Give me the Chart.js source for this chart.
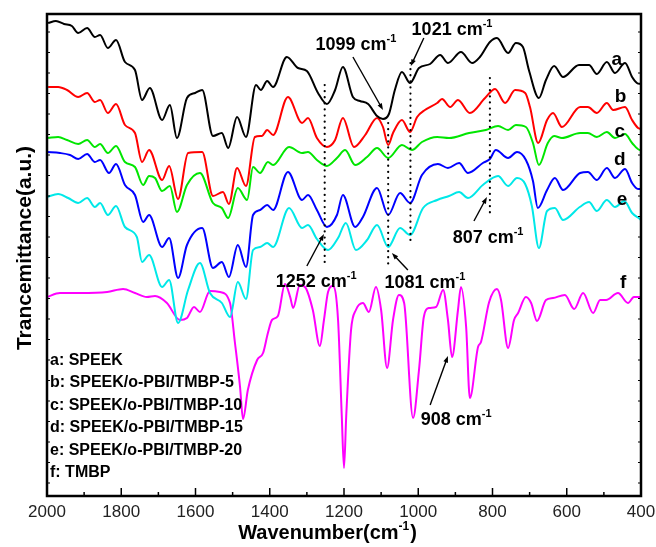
<!DOCTYPE html>
<html>
<head>
<meta charset="utf-8">
<script src="https://cdn.jsdelivr.net/npm/chart.js@4"></script>
<style>
  body { margin: 0; background: #fff; }
  canvas { display: block; }
</style>
</head>
<body>
<canvas id="ftir" width="656" height="547"></canvas>
<script>
// FTIR spectra — [wavenumber, transmittance (a.u.)]
const curveA = [[1997,473],[1976,475],[1954,472],[1933,470],[1916,463],[1892,468],[1871,459],[1857,461],[1836,448],[1814,456],[1790,434],[1763,426],[1744,396],[1723,408],[1690,376],[1669,391],[1650,358],[1623,398],[1601,403],[1582,406],[1553,360],[1529,363],[1512,348],[1488,379],[1464,359],[1437,411],[1424,406],[1407,415],[1391,409],[1354,439],[1324,428],[1300,425],[1270,403],[1246,392],[1224,406],[1203,429],[1176,399],[1157,395],[1135,392],[1111,380],[1095,377],[1079,382],[1063,406],[1044,424],[1022,413],[998,428],[968,432],[941,441],[920,433],[885,444],[855,433],[834,439],[807,454],[788,458],[758,443],[737,453],[718,449],[702,426],[675,398],[656,416],[634,430],[610,419],[567,431],[540,431],[519,422],[492,434],[470,423],[443,433],[424,419],[411,413],[400,412]];
const curveB = [[1997,409],[1970,409],[1946,406],[1916,399],[1892,403],[1871,394],[1857,396],[1836,383],[1814,392],[1790,371],[1763,363],[1744,334],[1725,346],[1690,316],[1671,330],[1647,297],[1620,343],[1582,344],[1553,300],[1526,304],[1510,292],[1488,328],[1464,310],[1440,359],[1421,360],[1407,366],[1391,361],[1351,399],[1313,373],[1297,378],[1273,358],[1246,349],[1224,356],[1203,378],[1173,349],[1143,361],[1111,378],[1095,369],[1081,351],[1068,363],[1044,376],[1022,364],[1003,379],[982,386],[949,393],[936,397],[914,389],[893,396],[861,383],[820,398],[793,407],[766,393],[739,406],[712,403],[699,389],[677,353],[653,376],[637,383],[613,369],[564,389],[543,389],[519,383],[492,393],[475,386],[443,389],[424,376],[408,368],[400,367]];
const curveC = [[1997,358],[1970,359],[1946,356],[1916,352],[1892,356],[1871,349],[1857,352],[1836,343],[1814,350],[1790,334],[1763,329],[1741,311],[1725,320],[1709,318],[1690,305],[1669,310],[1650,284],[1623,311],[1588,323],[1553,293],[1529,288],[1512,278],[1486,308],[1461,296],[1445,329],[1426,323],[1405,334],[1391,331],[1348,349],[1313,343],[1297,344],[1273,336],[1246,330],[1219,338],[1197,346],[1170,331],[1138,339],[1111,348],[1081,338],[1044,351],[1017,346],[990,354],[949,359],[917,358],[863,363],[818,366],[785,370],[758,366],[737,371],[710,369],[691,353],[675,331],[651,353],[634,360],[613,358],[564,363],[543,363],[519,359],[492,364],[470,358],[443,362],[424,353],[403,346],[400,346]];
const curveD = [[2000,344],[1965,343],[1938,341],[1916,337],[1892,342],[1871,334],[1857,336],[1833,323],[1814,332],[1790,311],[1763,301],[1741,274],[1725,281],[1690,249],[1671,258],[1647,218],[1623,251],[1582,268],[1553,228],[1529,234],[1510,219],[1486,251],[1464,229],[1445,281],[1426,286],[1407,291],[1391,286],[1351,324],[1313,296],[1297,301],[1273,286],[1246,269],[1219,281],[1203,301],[1170,269],[1149,279],[1111,308],[1081,281],[1049,303],[1022,293],[990,321],[947,332],[920,328],[890,333],[866,323],[826,333],[807,337],[791,346],[758,338],[734,344],[710,336],[691,315],[678,288],[653,306],[632,318],[610,306],[564,323],[543,324],[519,316],[492,328],[470,318],[443,327],[424,313],[408,307],[400,307]];
const curveE = [[2000,299],[1970,302],[1943,298],[1916,293],[1892,298],[1871,289],[1857,293],[1836,281],[1814,290],[1790,269],[1758,259],[1744,234],[1725,241],[1690,209],[1671,216],[1647,173],[1620,206],[1588,233],[1561,203],[1529,193],[1507,179],[1486,214],[1464,197],[1445,246],[1426,249],[1407,253],[1391,249],[1348,288],[1313,268],[1297,271],[1273,257],[1243,246],[1216,258],[1195,273],[1168,246],[1138,256],[1111,271],[1081,249],[1049,268],[1022,261],[987,288],[949,296],[917,300],[890,304],[866,298],[826,311],[785,320],[758,310],[734,318],[712,312],[694,290],[675,248],[653,285],[632,288],[610,276],[565,289],[540,294],[519,285],[492,296],[470,289],[445,295],[424,283],[403,277],[400,276]];
const curveF = [[2000,199],[1965,203],[1911,203],[1838,204],[1795,207],[1763,203],[1731,199],[1709,200],[1677,193],[1642,176],[1623,178],[1604,189],[1588,184],[1561,205],[1534,204],[1507,193],[1494,154],[1480,109],[1472,77],[1459,106],[1434,136],[1418,143],[1405,163],[1394,176],[1378,180],[1359,212],[1345,199],[1337,188],[1319,211],[1305,209],[1284,186],[1265,150],[1254,176],[1243,204],[1230,210],[1216,176],[1206,80],[1200,28],[1194,80],[1181,166],[1168,186],[1149,193],[1133,184],[1114,209],[1100,186],[1084,128],[1068,176],[1052,201],[1038,193],[1014,78],[998,126],[985,179],[971,188],[952,189],[933,206],[920,176],[909,139],[893,186],[885,209],[871,169],[861,98],[839,149],[831,154],[809,194],[788,207],[777,196],[758,148],[742,176],[731,183],[710,199],[696,193],[680,175],[656,196],[637,198],[605,201],[580,187],[556,203],[529,183],[510,196],[494,196],[462,203],[435,193],[419,199],[400,199]];

const seriesLetters = ['a', 'b', 'c', 'd', 'e', 'f'];
const seriesNames = ['SPEEK', 'SPEEK/o-PBI/TMBP-5', 'SPEEK/o-PBI/TMBP-10', 'SPEEK/o-PBI/TMBP-15', 'SPEEK/o-PBI/TMBP-20', 'TMBP'];
const seriesColors = ['#000000', '#ff0000', '#00e600', '#0000ff', '#00e8e8', '#ff00ff'];
// where the letter sits next to each curve: [wavenumber, value]
const letterPos = [[465,431],[455,394],[457,359],[457,331],[451,291],[448,208]];

const xTicks = [2000, 1800, 1600, 1400, 1200, 1000, 800, 600, 400];

// marked bands: dotted guide [wavenumber, from, to]
const guides = [[1252,411,233],[1081,373,229],[1021,433,254],[807,418,278]];
// band labels: text centre + baseline, arrow from -> to
const notes = [
  { label: '1099', at: [1168,446], from: [1176,439], to: [1095,386] },
  { label: '1021', at: [909,461], from: [985,458], to: [1020,430] },
  { label: '1252', at: [1275,209], from: [1300,230], to: [1254,262] },
  { label: '1081', at: [982,208], from: [1028,226], to: [1071,243] },
  { label: '807', at: [812,253], from: [850,275], to: [815,299] },
  { label: '908', at: [898,71], from: [968,91], to: [920,140] }
];

const FONT = '"Liberation Sans", Arial, sans-serif';
const curves = [curveA, curveB, curveC, curveD, curveE, curveF];

const datasets = curves.map((c, i) => ({
  label: seriesLetters[i],
  data: c.map(p => ({ x: p[0], y: p[1] })),
  borderColor: seriesColors[i],
  borderWidth: 2,
  cubicInterpolationMode: 'monotone',
  pointRadius: 0,
  order: 2
}));
guides.forEach(g => datasets.push({
  data: [{ x: g[0], y: g[1] }, { x: g[0], y: g[2] }],
  borderColor: '#000',
  borderWidth: 2.2,
  borderDash: [0.1, 6],
  borderCapStyle: 'round',
  pointRadius: 0,
  order: 1
}));

function supText(ctx, base, cx, baseY, size, tail) {
  const big = `bold ${size}px ${FONT}`;
  const small = `bold ${Math.round(size * 0.6)}px ${FONT}`;
  ctx.font = big; const w1 = ctx.measureText(base).width;
  const w3 = tail ? ctx.measureText(tail).width : 0;
  ctx.font = small; const w2 = ctx.measureText('-1').width;
  let x = cx - (w1 + w2 + w3) / 2;
  ctx.textAlign = 'left'; ctx.textBaseline = 'alphabetic';
  ctx.font = big; ctx.fillText(base, x, baseY);
  ctx.font = small; ctx.fillText('-1', x + w1, baseY - size * 0.45);
  if (tail) { ctx.font = big; ctx.fillText(tail, x + w1 + w2 + 1, baseY); }
}

function arrow(ctx, x1, y1, x2, y2) {
  const a = Math.atan2(y2 - y1, x2 - x1);
  const h = 7;
  ctx.beginPath();
  ctx.moveTo(x1, y1);
  ctx.lineTo(x2 - Math.cos(a) * 4, y2 - Math.sin(a) * 4);
  ctx.stroke();
  ctx.beginPath();
  ctx.moveTo(x2, y2);
  ctx.lineTo(x2 - h * Math.cos(a - 0.35), y2 - h * Math.sin(a - 0.35));
  ctx.lineTo(x2 - h * Math.cos(a + 0.35), y2 - h * Math.sin(a + 0.35));
  ctx.closePath();
  ctx.fill();
}

const decor = {
  id: 'decor',
  afterDraw(chart) {
    const { ctx, chartArea: ca, scales: { x, y } } = chart;
    ctx.save();
    ctx.fillStyle = '#000';
    ctx.strokeStyle = '#000';

    // frame
    ctx.lineWidth = 2.5;
    ctx.strokeRect(ca.left, ca.top, ca.right - ca.left, ca.bottom - ca.top);

    // x ticks, inward
    ctx.lineWidth = 1.5;
    for (let w = 2000; w >= 400; w -= 100) {
      const px = x.getPixelForValue(w);
      const len = w % 200 === 0 ? 8 : 4;
      ctx.beginPath(); ctx.moveTo(px, ca.bottom); ctx.lineTo(px, ca.bottom - len); ctx.stroke();
    }
    // y ticks (no labels), left and right
    ctx.lineWidth = 1;
    for (let v = 13; v < 482; v += 20.5) {
      const py = y.getPixelForValue(v);
      ctx.beginPath(); ctx.moveTo(ca.left, py); ctx.lineTo(ca.left + 3, py); ctx.stroke();
      ctx.beginPath(); ctx.moveTo(ca.right, py); ctx.lineTo(ca.right - 3, py); ctx.stroke();
    }

    // tick labels
    ctx.font = `17px ${FONT}`;
    ctx.fillStyle = '#222';
    ctx.textAlign = 'center'; ctx.textBaseline = 'alphabetic';
    xTicks.forEach(t => ctx.fillText(String(t), x.getPixelForValue(t), ca.bottom + 21));
    ctx.fillStyle = '#000';

    // axis titles
    supText(ctx, 'Wavenumber(cm', 327, ca.bottom + 43, 20, ')');
    ctx.save();
    ctx.translate(25, 248);
    ctx.rotate(-Math.PI / 2);
    ctx.font = `bold 21px ${FONT}`;
    ctx.textAlign = 'center'; ctx.textBaseline = 'middle';
    ctx.fillText('Trancemittance(a.u.)', 0, 0);
    ctx.restore();

    // curve letters
    ctx.font = `bold 19px ${FONT}`;
    ctx.textAlign = 'center'; ctx.textBaseline = 'alphabetic';
    letterPos.forEach((p, i) => ctx.fillText(seriesLetters[i], x.getPixelForValue(p[0]), y.getPixelForValue(p[1])));

    // band notes + arrows
    ctx.lineWidth = 1.4;
    notes.forEach(n => {
      supText(ctx, n.label + ' cm', x.getPixelForValue(n.at[0]), y.getPixelForValue(n.at[1]), 18);
      arrow(ctx, x.getPixelForValue(n.from[0]), y.getPixelForValue(n.from[1]),
                 x.getPixelForValue(n.to[0]), y.getPixelForValue(n.to[1]));
    });

    // sample key
    ctx.font = `bold 16px ${FONT}`;
    ctx.textAlign = 'left'; ctx.textBaseline = 'alphabetic';
    seriesNames.forEach((s, i) => ctx.fillText(seriesLetters[i] + ': ' + s, ca.left + 3, 365 + i * 22.4));

    ctx.restore();
  }
};

new Chart(document.getElementById('ftir'), {
  type: 'line',
  data: { datasets },
  options: {
    responsive: false,
    animation: false,
    layout: { padding: { left: 47, right: 15, top: 14, bottom: 51 } },
    scales: {
      x: { type: 'linear', reverse: true, min: 400, max: 2000, display: false },
      y: { type: 'linear', min: 0, max: 482, display: false }
    },
    plugins: { legend: { display: false }, tooltip: { enabled: false } }
  },
  plugins: [decor]
});
</script>
</body>
</html>
